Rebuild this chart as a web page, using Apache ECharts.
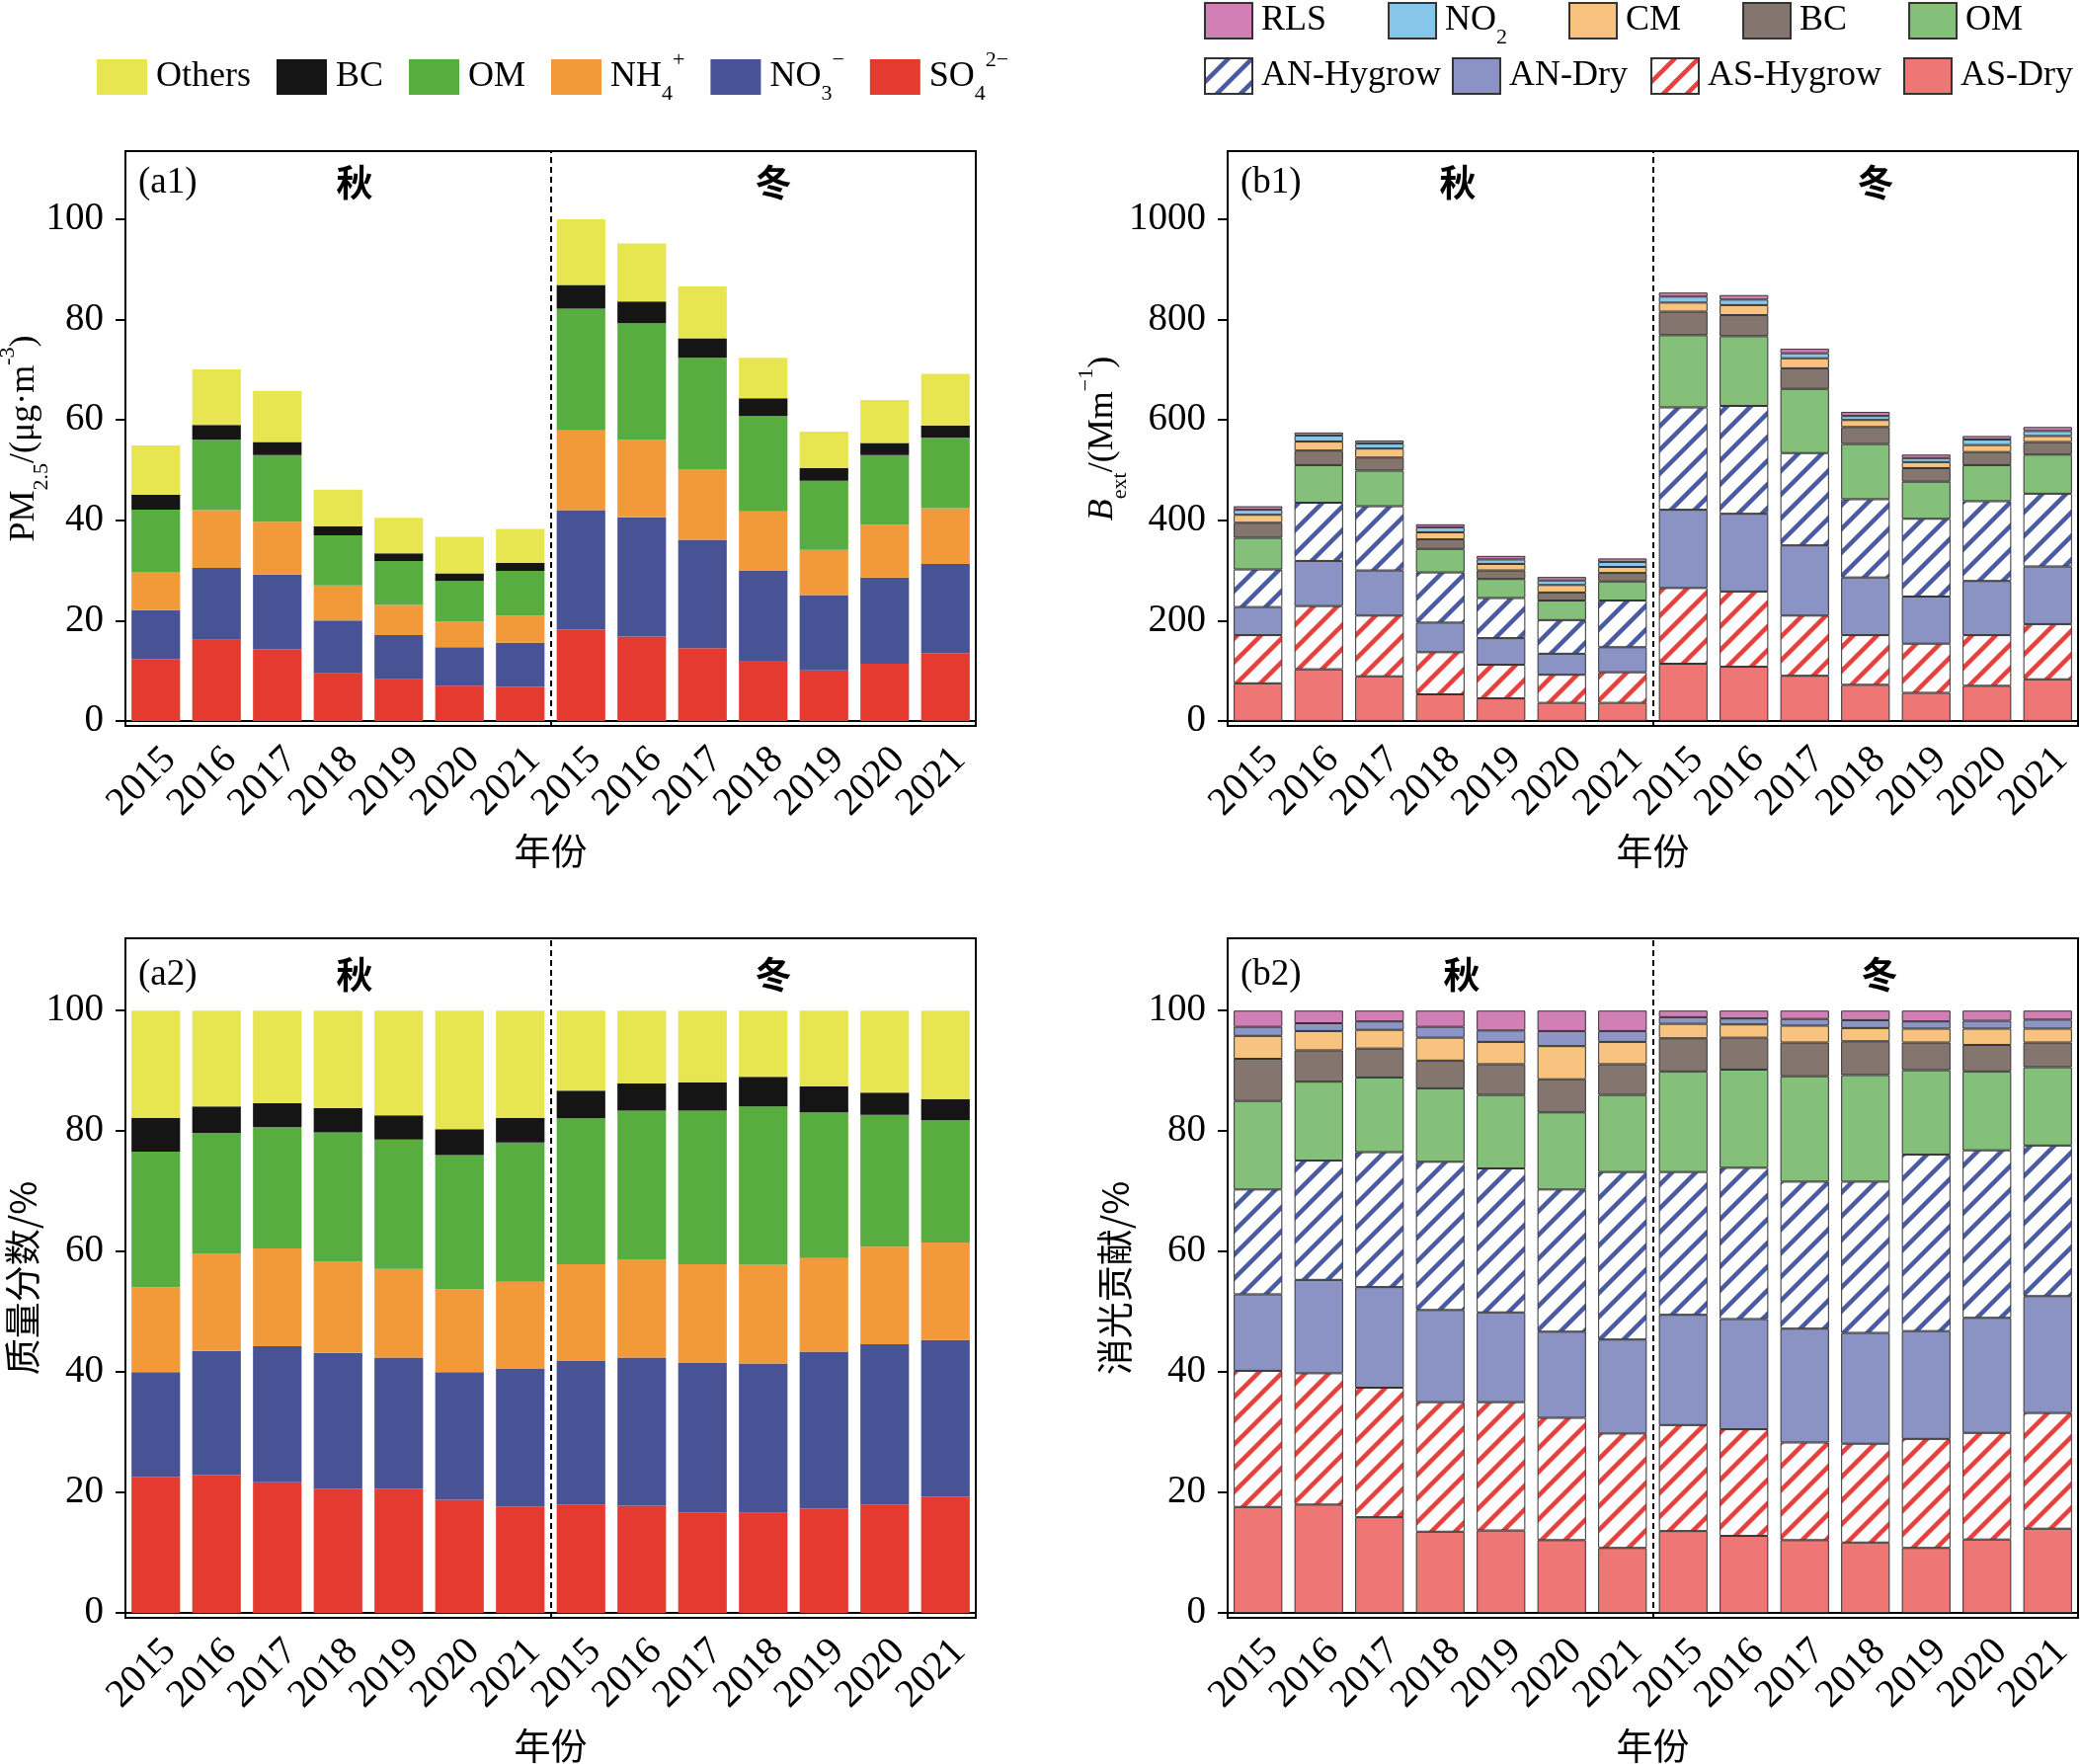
<!DOCTYPE html>
<html>
<head>
<meta charset="utf-8">
<script src="https://cdn.jsdelivr.net/npm/echarts@6/dist/echarts.min.js"></script>
<style>
  html, body { margin: 0; padding: 0; background: #fff; }
  #chart { width: 2106px; height: 1786px; }
</style>
</head>
<body>
<div id="chart"></div>
<script>
// categories: autumn 2015-2021 then winter 2015-2021
const years = ['2015','2016','2017','2018','2019','2020','2021','2015','2016','2017','2018','2019','2020','2021'];

// (a1) PM2.5 components, ug/m3
const a1SO4    = [12.3, 16.2, 14.3, 9.5, 8.3, 7.0, 6.8, 18.2, 16.8, 14.5, 12.0, 10.1, 11.4, 13.5];
const a1NO3    = [9.8, 14.3, 14.9, 10.5, 8.8, 7.7, 8.8, 23.8, 23.8, 21.6, 18.0, 15.0, 17.2, 17.8];
const a1NH4    = [7.6, 11.5, 10.5, 7.0, 6.0, 5.1, 5.4, 15.9, 15.4, 14.1, 11.8, 9.0, 10.5, 11.1];
const a1OM     = [12.4, 14.1, 13.3, 10.0, 8.8, 8.1, 8.9, 24.3, 23.3, 22.2, 19.0, 13.8, 13.9, 14.1];
const a1BC     = [3.0, 2.9, 2.6, 1.8, 1.5, 1.5, 1.6, 4.7, 4.3, 3.9, 3.5, 2.5, 2.4, 2.4];
const a1Others = [9.8, 11.1, 10.2, 7.3, 7.1, 7.3, 6.8, 13.1, 11.6, 10.3, 8.1, 7.3, 8.6, 10.3];

// (a2) mass fraction, %
const a2SO4    = [22.6, 22.9, 21.7, 20.6, 20.6, 18.8, 17.7, 18.0, 17.8, 16.7, 16.6, 17.3, 18.0, 19.3];
const a2NO3    = [17.4, 20.6, 22.6, 22.6, 21.8, 21.2, 22.9, 23.9, 24.6, 24.9, 24.8, 26.1, 26.6, 26.0];
const a2NH4    = [14.1, 16.1, 16.2, 15.1, 14.7, 13.7, 14.4, 16.0, 16.3, 16.3, 16.4, 15.5, 16.2, 16.2];
const a2OM     = [22.5, 20.1, 20.2, 21.5, 21.5, 22.3, 23.1, 24.2, 24.7, 25.5, 26.3, 24.2, 21.9, 20.3];
const a2BC     = [5.6, 4.4, 3.9, 4.0, 4.0, 4.3, 4.1, 4.6, 4.5, 4.7, 4.9, 4.3, 3.7, 3.5];
const a2Others = [17.8, 15.9, 15.4, 16.2, 17.4, 19.7, 17.8, 13.3, 12.1, 11.9, 11.0, 12.6, 13.6, 14.7];

// (b1) extinction, Mm-1
const b1ASDry = [75, 103, 89, 53, 45, 36, 36, 114, 108, 90, 72, 56, 70, 83];
const b1ASHyg = [96, 126, 121, 84, 67, 56, 61, 151, 150, 120, 99, 98, 101, 110];
const b1ANDry = [56, 90, 90, 59, 53, 42, 50, 156, 155, 140, 115, 94, 108, 115];
const b1ANHyg = [75, 116, 128, 100, 80, 67, 93, 204, 215, 184, 156, 155, 159, 145];
const b1OM    = [63, 75, 71, 47, 38, 39, 38, 144, 139, 128, 110, 74, 72, 78];
const b1BC    = [30, 29, 26, 19, 17, 16, 17, 47, 42, 41, 34, 27, 26, 25];
const b1CM    = [16, 18, 18, 14, 13, 15, 12, 18, 20, 20, 14, 12, 14, 12];
const b1NO2   = [10, 12, 10, 10, 9, 9, 10, 12, 11, 10, 8, 8, 11, 10];
const b1RLS   = [7, 6, 6, 6, 7, 7, 7, 8, 9, 9, 8, 7, 7, 8];

// (b2) extinction contribution, %
const b2ASDry = [17.6, 18.0, 15.9, 13.5, 13.7, 12.1, 10.8, 13.6, 12.8, 12.1, 11.7, 10.8, 12.2, 14.0];
const b2ASHyg = [22.6, 21.8, 21.5, 21.5, 21.3, 20.3, 19.0, 17.6, 17.7, 16.2, 16.4, 18.1, 17.7, 19.2];
const b2ANDry = [12.7, 15.5, 16.7, 15.3, 14.9, 14.3, 15.6, 18.3, 18.3, 18.9, 18.4, 17.9, 19.1, 19.4];
const b2ANHyg = [17.4, 19.8, 22.4, 24.6, 23.9, 23.6, 27.8, 23.7, 25.1, 24.4, 25.1, 29.3, 27.8, 25.0];
const b2OM    = [14.7, 13.1, 12.4, 12.2, 12.2, 12.8, 12.8, 16.7, 16.3, 17.5, 17.7, 14.0, 13.1, 13.0];
const b2BC    = [7.0, 5.2, 4.8, 4.6, 5.1, 5.5, 5.1, 5.5, 5.3, 5.6, 5.6, 4.6, 4.4, 4.1];
const b2CM    = [3.8, 3.2, 3.1, 3.8, 3.7, 5.5, 3.7, 2.4, 2.2, 2.8, 2.2, 2.3, 2.7, 2.3];
const b2NO2   = [1.5, 1.3, 1.4, 1.8, 1.9, 2.5, 1.8, 1.1, 1.0, 1.1, 1.3, 1.2, 1.3, 1.5];
const b2RLS   = [2.7, 2.1, 1.8, 2.7, 3.3, 3.4, 3.4, 1.1, 1.3, 1.4, 1.6, 1.8, 1.7, 1.5];

const pmTicks = [0, 20, 40, 60, 80, 100];
const bextTicks = [0, 200, 400, 600, 800, 1000];
const pctTicks = [0, 20, 40, 60, 80, 100];

const serif = 'Liberation Serif';
const cjk = 'Noto Sans CJK SC';

function hatch(color) {
  const c = document.createElement('canvas');
  c.width = 24; c.height = 24;
  const g = c.getContext('2d');
  g.fillStyle = '#fff';
  g.fillRect(0, 0, 24, 24);
  g.strokeStyle = color;
  g.lineWidth = 4.5;
  g.beginPath();
  g.moveTo(-3, 3); g.lineTo(3, -3);
  g.moveTo(-3, 27); g.lineTo(27, -3);
  g.moveTo(21, 27); g.lineTo(27, 21);
  g.stroke();
  return { image: c, repeat: 'repeat' };
}

const col = {
  SO4: '#e53a30', NO3: '#485396', NH4: '#f29a3a', OM: '#57ad3f', BC: '#151515', Others: '#e8e650',
  ASDry: '#ee7675', ASHyg: hatch('#e8413d'), ANDry: '#8a93c4', ANHyg: hatch('#4a5aa0'),
  bOM: '#84c07a', bBC: '#85756f', CM: '#f7c37e', NO2: '#87c6e8', NO2b: '#8c95c6', RLS: '#d17fb4'
};

const rich = {
  m: { fontFamily: serif, fontSize: 36, lineHeight: 56, color: '#000' },
  it: { fontFamily: serif, fontSize: 36, lineHeight: 56, fontStyle: 'italic', color: '#000' },
  sub: { fontFamily: serif, fontSize: 22, lineHeight: 36, verticalAlign: 'bottom', color: '#000' },
  sup: { fontFamily: serif, fontSize: 22, lineHeight: 46, verticalAlign: 'top', color: '#000' }
};

const legendLabels = {
  NH4: '{m|NH}{sub|4}{sup|+}',
  NO3: '{m|NO}{sub|3}{sup|\u2212}',
  SO4: '{m|SO}{sub|4}{sup|2\u2212}',
  NO2: '{m|NO}{sub|2}',
  bBC: '{m|BC}',
  bOM: '{m|OM}'
};

// plot boxes [left, top, width, height]
const boxes = [
  [127, 153, 861, 582],
  [1243, 153, 861, 582],
  [127, 950, 861, 688],
  [1243, 950, 861, 688]
];

const grids = boxes.map(b => ({
  left: b[0], top: b[1], width: b[2], height: b[3],
  containLabel: false, outerBoundsMode: 'none',
  show: true, borderColor: '#000', borderWidth: 2, backgroundColor: 'transparent'
}));

const catAxes = [0, 1, 2, 3].map(i => ({
  type: 'category', gridIndex: i, data: years,
  axisLine: { lineStyle: { color: '#000', width: 2 } },
  axisTick: { alignWithLabel: true, length: 11, lineStyle: { color: '#000', width: 2 } },
  axisLabel: { interval: 0, rotate: 45, margin: 14, verticalAlign: 'top',
    fontFamily: serif, fontSize: 40, color: '#000' },
  name: '年份', nameLocation: 'middle', nameGap: i < 2 ? 108 : 111, nameMoveOverlap: false,
  nameTextStyle: { fontFamily: cjk, fontSize: 37, color: '#000' }
}));

const valAxes = [0, 1, 2, 3].map(i => ({
  type: 'value', gridIndex: i, min: 0, max: 14, show: false
}));

function yAxis(i, min, max, ticks, name, gap, style) {
  return {
    type: 'value', gridIndex: i, min: min, max: max,
    axisLine: { show: true, lineStyle: { color: '#000', width: 2 } },
    axisTick: { show: true, length: 10, customValues: ticks, lineStyle: { color: '#000', width: 2 } },
    axisLabel: { customValues: ticks, margin: 22, fontFamily: serif, fontSize: 39, color: '#000',
      formatter: v => String(v) },
    splitLine: { show: false },
    name: name, nameLocation: 'middle', nameGap: gap, nameRotate: 90, nameMoveOverlap: false,
    nameTextStyle: style
  };
}

const yAxes = [
  yAxis(0, -1, 113.6, pmTicks, '{m|PM}{sub|2.5}{m|/(\u03bcg\u00b7m}{sup|-3}{m|)}', 74,
    { fontFamily: serif, fontSize: 36, color: '#000', rich: rich }),
  yAxis(1, -10, 1136, bextTicks, '{it|B}{sub|ext}{m|/(Mm}{sup|\u22121}{m|)}', 98,
    { fontFamily: serif, fontSize: 36, color: '#000', rich: rich }),
  yAxis(2, -0.8, 112, pctTicks, '质量分数/%', 86,
    { fontFamily: cjk, fontSize: 37, color: '#000' }),
  yAxis(3, -0.8, 112, pctTicks, '消光贡献/%', 96,
    { fontFamily: cjk, fontSize: 37, color: '#000' })
];

function bar(name, data, grid, color, bordered) {
  return {
    type: 'bar', name: name, data: data, stack: 's' + grid,
    xAxisIndex: grid, yAxisIndex: grid, barCategoryGap: '20%',
    itemStyle: bordered ? { color: color, borderColor: '#333', borderWidth: 1 } : { color: color },
    emphasis: { disabled: true }
  };
}

const series = [
  bar('SO4', a1SO4, 0, col.SO4), bar('NO3', a1NO3, 0, col.NO3), bar('NH4', a1NH4, 0, col.NH4),
  bar('OM', a1OM, 0, col.OM), bar('BC', a1BC, 0, col.BC), bar('Others', a1Others, 0, col.Others),

  bar('SO4', a2SO4, 2, col.SO4), bar('NO3', a2NO3, 2, col.NO3), bar('NH4', a2NH4, 2, col.NH4),
  bar('OM', a2OM, 2, col.OM), bar('BC', a2BC, 2, col.BC), bar('Others', a2Others, 2, col.Others),

  bar('AS-Dry', b1ASDry, 1, col.ASDry, true), bar('AS-Hygrow', b1ASHyg, 1, col.ASHyg, true),
  bar('AN-Dry', b1ANDry, 1, col.ANDry, true), bar('AN-Hygrow', b1ANHyg, 1, col.ANHyg, true),
  bar('bOM', b1OM, 1, col.bOM, true), bar('bBC', b1BC, 1, col.bBC, true),
  bar('CM', b1CM, 1, col.CM, true), bar('NO2', b1NO2, 1, col.NO2, true), bar('RLS', b1RLS, 1, col.RLS, true),

  bar('AS-Dry', b2ASDry, 3, col.ASDry, true), bar('AS-Hygrow', b2ASHyg, 3, col.ASHyg, true),
  bar('AN-Dry', b2ANDry, 3, col.ANDry, true), bar('AN-Hygrow', b2ANHyg, 3, col.ANHyg, true),
  bar('bOM', b2OM, 3, col.bOM, true), bar('bBC', b2BC, 3, col.bBC, true),
  bar('CM', b2CM, 3, col.CM, true), bar('NO2', b2NO2, 3, col.NO2b, true), bar('RLS', b2RLS, 3, col.RLS, true)
];

// dashed season divider on each panel (hidden value axis 0..14, divider at 7)
[0, 1, 2, 3].forEach(i => {
  series.push({
    type: 'line', name: 'div' + i, data: [], xAxisIndex: 4 + i, yAxisIndex: i,
    markLine: {
      silent: true, symbol: 'none', label: { show: false },
      lineStyle: { color: '#000', type: [6, 4], width: 2 },
      data: [{ xAxis: 7 }]
    }
  });
});

function legend(names, left, top, w, gap) {
  return {
    data: names, left: left, top: top, orient: 'horizontal',
    icon: 'rect', itemWidth: w, itemHeight: 36, itemGap: gap,
    selectedMode: false,
    formatter: n => legendLabels[n] || '{m|' + n + '}',
    textStyle: { fontFamily: serif, fontSize: 36, color: '#000', padding: [0, 0, 0, 4], rich: rich }
  };
}

function txt(x, y, s, font, align, weight) {
  return {
    type: 'text', x: x, y: y,
    style: { text: s, fontFamily: font, fontSize: 37, fontWeight: weight || 'normal',
      fill: '#000', textAlign: align, textVerticalAlign: 'middle' }
  };
}

const chart = echarts.init(document.getElementById('chart'));
chart.setOption({
  backgroundColor: '#fff',
  animation: false,
  grid: grids,
  xAxis: catAxes.concat(valAxes),
  yAxis: yAxes,
  legend: [
    legend(['Others', 'BC', 'OM', 'NH4', 'NO3', 'SO4'], 93, 45, 51, 26),
    legend(['RLS', 'NO2', 'CM', 'bBC', 'bOM'], 1214, -3, 48, 62),
    legend(['AN-Hygrow', 'AN-Dry'], 1214, 53, 48, 11),
    legend(['AS-Hygrow', 'AS-Dry'], 1666, 53, 48, 22)
  ],
  graphic: [
    txt(140, 185, '(a1)', serif, 'left'), txt(359, 185, '秋', cjk, 'center', 'bold'), txt(783, 185, '冬', cjk, 'center', 'bold'),
    txt(1256, 185, '(b1)', serif, 'left'), txt(1476, 185, '秋', cjk, 'center', 'bold'), txt(1899, 185, '冬', cjk, 'center', 'bold'),
    txt(140, 987, '(a2)', serif, 'left'), txt(359, 987, '秋', cjk, 'center', 'bold'), txt(783, 987, '冬', cjk, 'center', 'bold'),
    txt(1256, 987, '(b2)', serif, 'left'), txt(1480, 987, '秋', cjk, 'center', 'bold'), txt(1903, 987, '冬', cjk, 'center', 'bold')
  ],
  series: series
});

window.onresize = function () { chart.resize(); };
</script>
</body>
</html>
